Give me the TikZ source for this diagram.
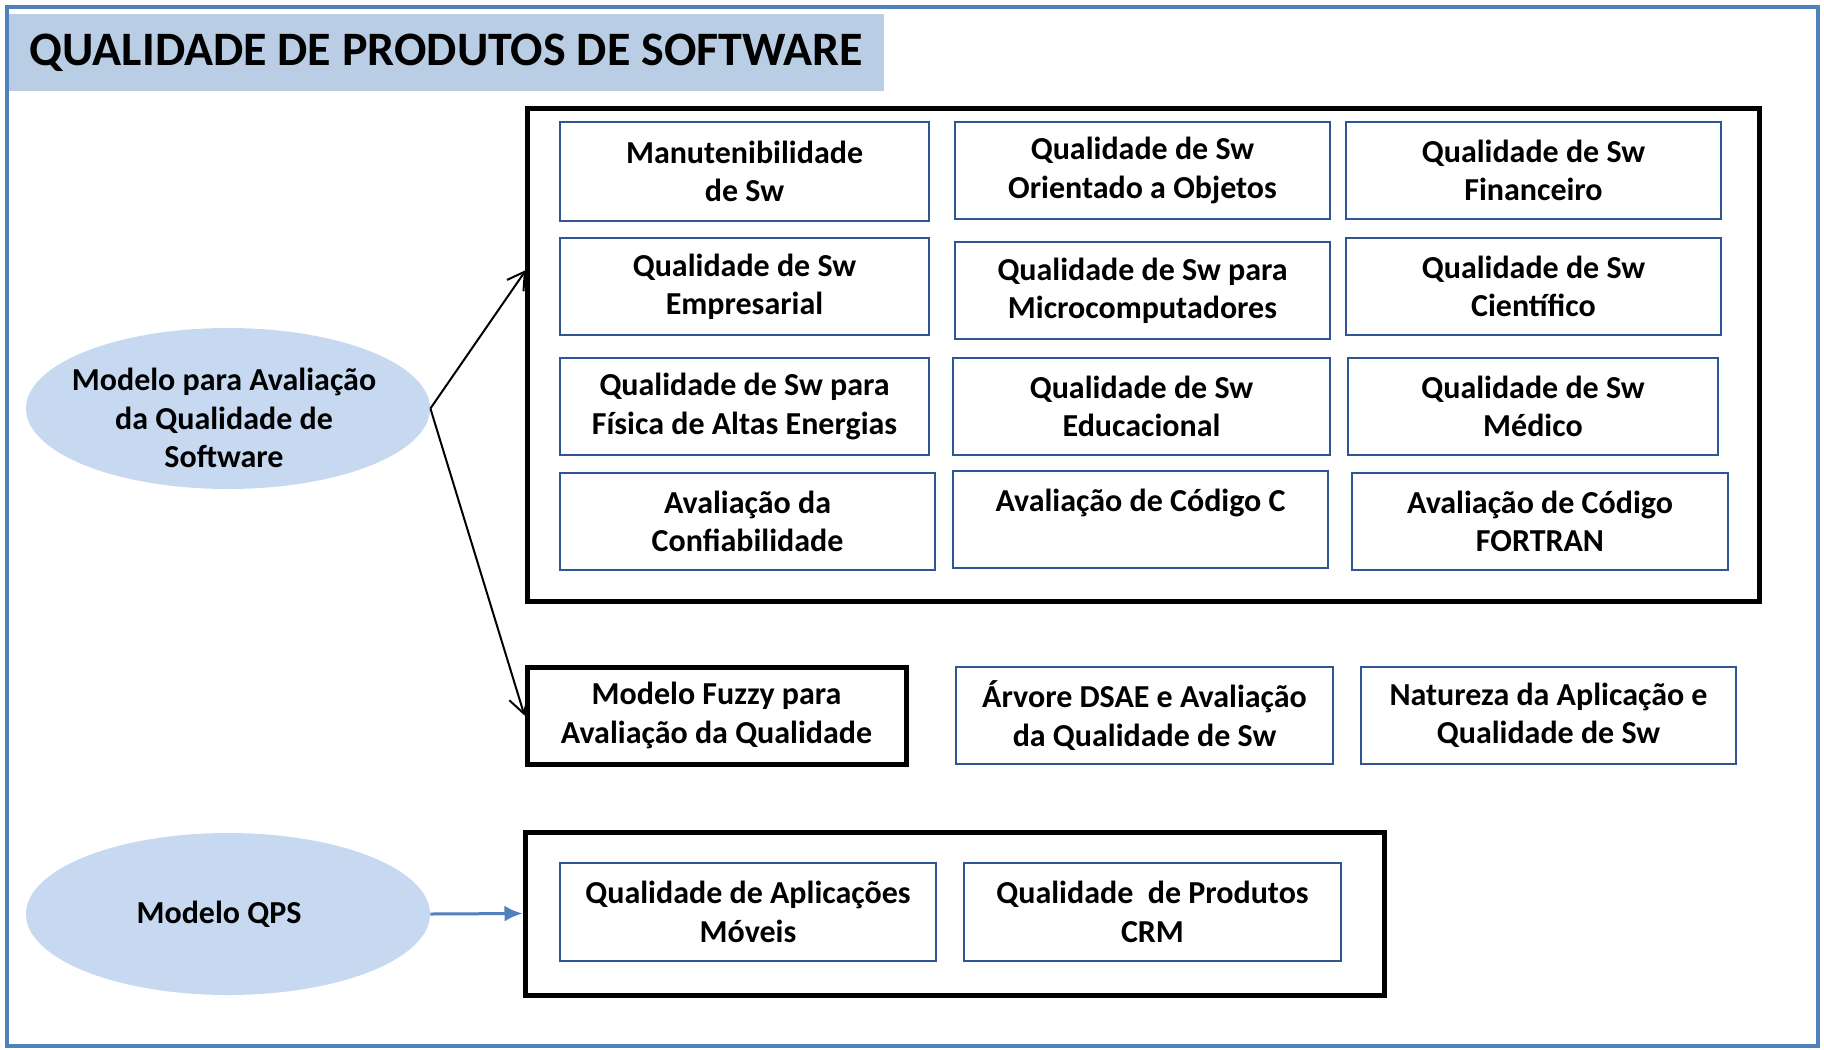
\documentclass[tikz,border=0pt]{standalone}
\usepackage{fontspec}
\setmainfont{Carlito}
\usetikzlibrary{shapes.geometric,arrows.meta}
\definecolor{frameblue}{HTML}{4F81BD}
\definecolor{titlefill}{HTML}{B9CDE5}
\definecolor{ellfill}{HTML}{C6D9F1}
\definecolor{boxblue}{HTML}{2F5597}
\newcommand\mybox[7]{\node[#6, minimum width={(#4-#2)*0.5pt}, minimum height={(#5-#3)*0.5pt}] (#1) at ({(#2+#4)/2},{(#3+#5)/2}) {#7};}
\begin{document}
\begin{tikzpicture}[x=0.5pt,y=-0.5pt,
 txt/.style={font=\fontsize{16}{19.2}\selectfont\bfseries, align=center, text=black, inner sep=0pt},
 ibox/.style={txt, draw=boxblue, line width=1pt},
 kbox/.style={txt, draw=black, line width=2.5pt},
 ell/.style={ellipse, fill=ellfill, draw=none, inner sep=0pt},
 garrow/.style={draw=black, line width=1pt, -{Straight Barb[length=8.5pt,width=10pt]}},
 barrow/.style={draw=frameblue, line width=1.5pt, -{Latex[length=9pt,width=8pt]}}
]
\useasboundingbox (0,0) rectangle (1824,1049);
\fill[white] (0,0) rectangle (1824,1049);
\draw[frameblue, line width=2pt] (7,7) rectangle (1818,1046);
% title
\mybox{title}{9}{14}{884}{91}{fill=titlefill, inner sep=0pt, font=\fontsize{24}{28}\selectfont\bfseries}{QUALIDADE DE PRODUTOS DE SOFTWARE}
% big containers
\mybox{big1}{527}{108}{1759}{601}{kbox}{}
\mybox{big3}{525}{832}{1384}{995}{kbox}{}
% row 1
\mybox{b11}{560}{122}{929}{221}{ibox}{Manutenibilidade\\de Sw}
\mybox{b12}{955}{122}{1330}{219}{ibox}{Qualidade de Sw\\Orientado a Objetos}
\mybox{b13}{1346}{122}{1721}{219}{ibox}{Qualidade de Sw\\Financeiro}
% row 2
\mybox{b21}{560}{238}{929}{335}{ibox}{Qualidade de Sw\\Empresarial}
\mybox{b22}{955}{242}{1330}{339}{ibox}{Qualidade de Sw para\\Microcomputadores}
\mybox{b23}{1346}{238}{1721}{335}{ibox}{Qualidade de Sw\\Científico}
% row 3
\mybox{b31}{560}{358}{929}{455}{ibox}{Qualidade de Sw para\\Física de Altas Energias}
\mybox{b32}{953}{358}{1330}{455}{ibox}{Qualidade de Sw\\Educacional}
\mybox{b33}{1348}{358}{1718}{455}{ibox}{Qualidade de Sw\\Médico}
% row 4
\mybox{b41}{560}{473}{935}{570}{ibox}{Avaliação da\\Confiabilidade}
\mybox{b42}{953}{471}{1328}{568}{ibox}{Avaliação de Código C\\\mbox{}}
\mybox{b43}{1352}{473}{1728}{570}{ibox}{Avaliação de Código\\FORTRAN}
% row 5
\mybox{fuzzy}{527}{667}{906}{764}{kbox}{Modelo Fuzzy para\\Avaliação da Qualidade}
\mybox{dsae}{956}{667}{1333}{764}{ibox}{Árvore DSAE e Avaliação\\da Qualidade de Sw}
\mybox{nat}{1361}{667}{1736}{764}{ibox}{Natureza da Aplicação e\\Qualidade de Sw}
% bottom group
\mybox{mov}{560}{863}{936}{961}{ibox}{Qualidade de Aplicações\\Móveis}
\mybox{crm}{964}{863}{1341}{961}{ibox}{Qualidade\ \ de Produtos\\CRM}
% ellipses
\mybox{e1}{26}{328}{430}{489}{ell}{}
\node[txt] (e1t) at (224,418) {Modelo para Avaliação\\da Qualidade de\\Software};
\mybox{e2}{26}{833}{430}{995}{ell}{}
\node[txt] (e2t) at (219,914) {Modelo QPS};
% connectors
\coordinate (t1) at (526,270);
\draw[garrow] (e1.east) -- (t1);
\draw[garrow] (e1.east) -- (fuzzy.west);
\draw[barrow] (e2.east) -- (big3.west);
\end{tikzpicture}
\end{document}
